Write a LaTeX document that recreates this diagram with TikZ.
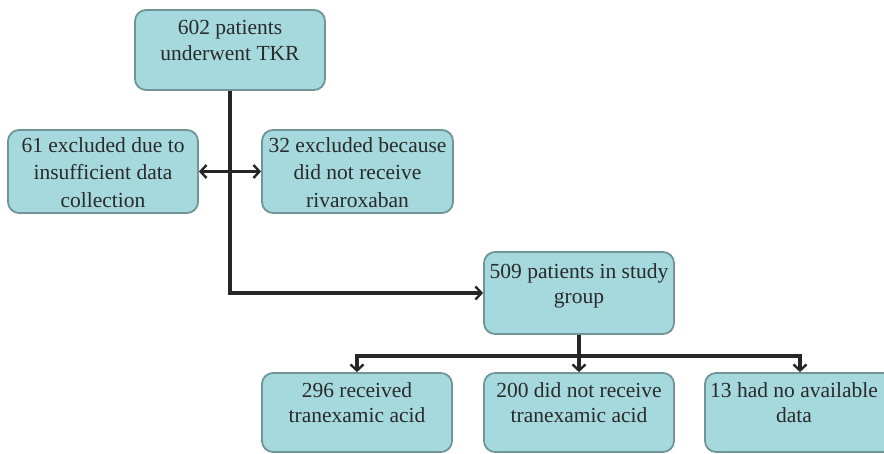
\documentclass[tikz,border=0pt]{standalone}
\usepackage{fontspec}
\setmainfont{Liberation Serif}
\newfontfamily\tnr{Liberation Serif}
\usetikzlibrary{arrows.meta}
\definecolor{boxfill}{HTML}{A5D9DD}
\definecolor{boxline}{HTML}{6F9597}
\definecolor{linec}{HTML}{262626}
\definecolor{txtc}{HTML}{2A2A2A}
\begin{document}
\begin{tikzpicture}[x=1pt,y=-1pt,
  box/.style={draw=boxline, fill=boxfill, line width=1.8pt, rounded corners=11pt,
    minimum width=190pt, minimum height=81pt, inner sep=0pt},
  txt/.style={align=center, font=\tnr\fontsize{21.5}{25.5}\selectfont, text=txtc, inner sep=0pt},
  tip/.tip={Straight Barb[length=6pt,width=13pt,line width=2.4pt]},
  arr/.style={line width=3.2pt, draw=linec, -tip},
  dbl/.style={line width=3.2pt, draw=linec, tip-tip},
]
\useasboundingbox (0,0) rectangle (884,453);
\clip (0,0) rectangle (884,453);

\node[box, minimum height=80pt] (top) at (230,50) {};
\node[txt, below=11pt] (ttop) at (top.north) {602 patients\\underwent TKR};

\node[box, minimum height=83pt] (left) at (103,171.5) {};
\node[txt, below=8pt, font=\tnr\fontsize{21.5}{27.5}\selectfont] (tleft) at (left.north) {61 excluded due to\\insufficient data\\collection};

\node[box, minimum width=191pt, minimum height=83pt] (right) at (357.5,171.5) {};
\node[txt, below=8pt, font=\tnr\fontsize{21.5}{27.5}\selectfont] (tright) at (right.north) {32 excluded because\\did not receive\\rivaroxaban};

\node[box, minimum height=82pt] (study) at (579,293) {};
\node[txt, below=12pt] (tstudy) at (study.north) {509 patients in study\\group};

\node[box, minimum height=79pt] (b1) at (357,412.5) {};
\node[txt, below=10pt] (tb1) at (b1.north) {296 received\\tranexamic acid};

\node[box, minimum height=79pt] (b2) at (579,412.5) {};
\node[txt, below=10pt] (tb2) at (b2.north) {200 did not receive\\tranexamic acid};

\node[box, minimum height=79pt] (b3) at (800,412.5) {};
\node[txt, below=10pt] (tb3) at ([xshift=-6pt]b3.north) {13 had no available\\data};

\draw[arr] (top.south) |- (study.west);
\draw[dbl] (left.east) -- (right.west);
\draw[arr] (study.south) -- ++(0,21) -| (b1.north);
\draw[arr] (study.south) -- (b2.north);
\draw[arr] (study.south) -- ++(0,21) -| (b3.north);
\end{tikzpicture}
\end{document}
